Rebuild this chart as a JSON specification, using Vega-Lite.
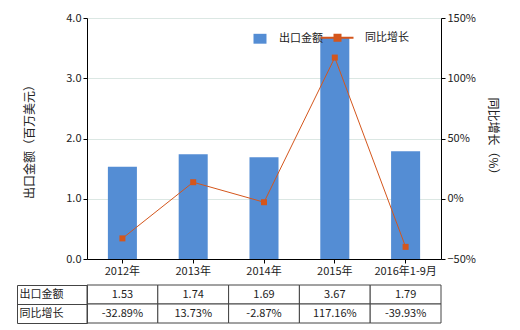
{
  "$schema": "https://vega.github.io/schema/vega-lite/v6.json",
  "background": "white",
  "padding": {"left": 16, "top": 12, "right": 5, "bottom": 5},
  "spacing": 3,
  "config": {
    "font": "Noto Sans CJK SC",
    "view": {"stroke": null},
    "axis": {"labelFont": "Noto Sans CJK SC", "titleFont": "Noto Sans CJK SC", "labelColor": "#222", "titleColor": "#222", "labelFontSize": 11, "titleFontSize": 12, "titleFontWeight": "normal"},
    "legend": {"labelFont": "Noto Sans CJK SC", "labelColor": "#222", "labelFontSize": 11},
    "text": {"font": "Noto Sans CJK SC"}
  },
  "datasets": {
    "main": [
      {"year": "2012年", "amount": 1.53, "growth": -0.3289},
      {"year": "2013年", "amount": 1.74, "growth": 0.1373},
      {"year": "2014年", "amount": 1.69, "growth": -0.0287},
      {"year": "2015年", "amount": 3.67, "growth": 1.1716},
      {"year": "2016年1-9月", "amount": 1.79, "growth": -0.3993}
    ],
    "table": [
      {"year": "2012年", "metric": "出口金额", "text": "1.53"},
      {"year": "2013年", "metric": "出口金额", "text": "1.74"},
      {"year": "2014年", "metric": "出口金额", "text": "1.69"},
      {"year": "2015年", "metric": "出口金额", "text": "3.67"},
      {"year": "2016年1-9月", "metric": "出口金额", "text": "1.79"},
      {"year": "2012年", "metric": "同比增长", "text": "-32.89%"},
      {"year": "2013年", "metric": "同比增长", "text": "13.73%"},
      {"year": "2014年", "metric": "同比增长", "text": "-2.87%"},
      {"year": "2015年", "metric": "同比增长", "text": "117.16%"},
      {"year": "2016年1-9月", "metric": "同比增长", "text": "-39.93%"}
    ]
  },
  "vconcat": [
    {
      "width": 354,
      "height": 241,
      "data": {"name": "main"},
      "layer": [
        {
          "mark": {"type": "bar", "width": {"band": 0.41}},
          "encoding": {
            "x": {"field": "year", "type": "nominal", "sort": null, "scale": {"paddingInner": 0, "paddingOuter": 0},
              "axis": {"title": null, "labelAngle": 0, "domainColor": "#000", "tickColor": "#000", "tickSize": 4, "labelPadding": 2, "grid": false}},
            "y": {"field": "amount", "type": "quantitative", "scale": {"domain": [0, 4]},
              "axis": {"values": [0, 1, 2, 3, 4], "format": ".1f", "grid": true, "gridColor": "#dbe7e3", "domainColor": "#000", "tickColor": "#000", "tickSize": 4, "labelPadding": 2, "title": "出口金额（百万美元）", "titlePadding": 29}},
            "color": {"datum": "出口金额", "type": "nominal",
              "scale": {"domain": ["出口金额", "同比增长"], "range": ["#548dd4", "#d4561c"]},
              "legend": {
                "title": null, "orient": "none", "legendX": 175, "legendY": 14, "direction": "horizontal",
                "symbolSize": 1444, "labelOffset": 6, "columnPadding": -7, "padding": 0,
                "encode": {"symbols": {"update": {
                  "shape": {"signal": "datum.value === '出口金额' ? 'M-0.737,-0.26H-0.053V0.26H-0.737Z' : 'M-1.737,0H0M-1,-0.158H-0.684V0.158H-1Z'"},
                  "fill": {"signal": "datum.value === '出口金额' ? '#548dd4' : '#d4561c'"},
                  "stroke": {"signal": "datum.value === '出口金额' ? '#548dd4' : '#d4561c'"},
                  "strokeWidth": {"signal": "datum.value === '出口金额' ? 0 : 2"},
                  "opacity": {"value": 1}
                }}}
              }}
          }
        },
        {
          "mark": {"type": "line", "strokeWidth": 1, "point": {"shape": "square", "size": 36, "filled": true, "opacity": 1}},
          "encoding": {
            "x": {"field": "year", "type": "nominal", "sort": null},
            "y": {"field": "growth", "type": "quantitative", "scale": {"domain": [-0.5, 1.5]},
              "axis": {"orient": "right", "values": [-0.5, 0, 0.5, 1, 1.5], "format": ".0%", "grid": false, "domainColor": "#000", "tickColor": "#000", "tickSize": 4, "labelPadding": 2, "title": "同比增长（%）", "titlePadding": 10}},
            "color": {"datum": "同比增长", "type": "nominal"}
          }
        }
      ],
      "resolve": {"scale": {"y": "independent"}}
    },
    {
      "width": 354,
      "height": 38,
      "data": {"name": "table"},
      "layer": [
        {
          "mark": {"type": "rect", "fill": "white", "stroke": "#444", "strokeWidth": 1},
          "encoding": {
            "x": {"field": "year", "type": "nominal", "sort": null, "scale": {"paddingInner": 0, "paddingOuter": 0}, "axis": null},
            "y": {"field": "metric", "type": "nominal", "sort": null, "scale": {"paddingInner": 0, "paddingOuter": 0},
              "axis": {"title": null, "tickBand": "extent", "tickSize": 70, "labelAlign": "left", "labelPadding": -2, "domainColor": "#444", "tickColor": "#444", "labelFontSize": 11, "labelColor": "#222"}}
          }
        },
        {
          "mark": {"type": "text", "fontSize": 11, "color": "#222"},
          "encoding": {
            "x": {"field": "year", "type": "nominal", "sort": null},
            "y": {"field": "metric", "type": "nominal", "sort": null, "scale": {"paddingInner": 0, "paddingOuter": 0},
              "axis": {"orient": "left", "offset": 70, "labels": false, "ticks": false, "domain": true, "domainColor": "#444", "title": null, "grid": false}},
            "text": {"field": "text"}
          }
        }
      ],
      "resolve": {"scale": {"y": "independent"}}
    }
  ]
}
